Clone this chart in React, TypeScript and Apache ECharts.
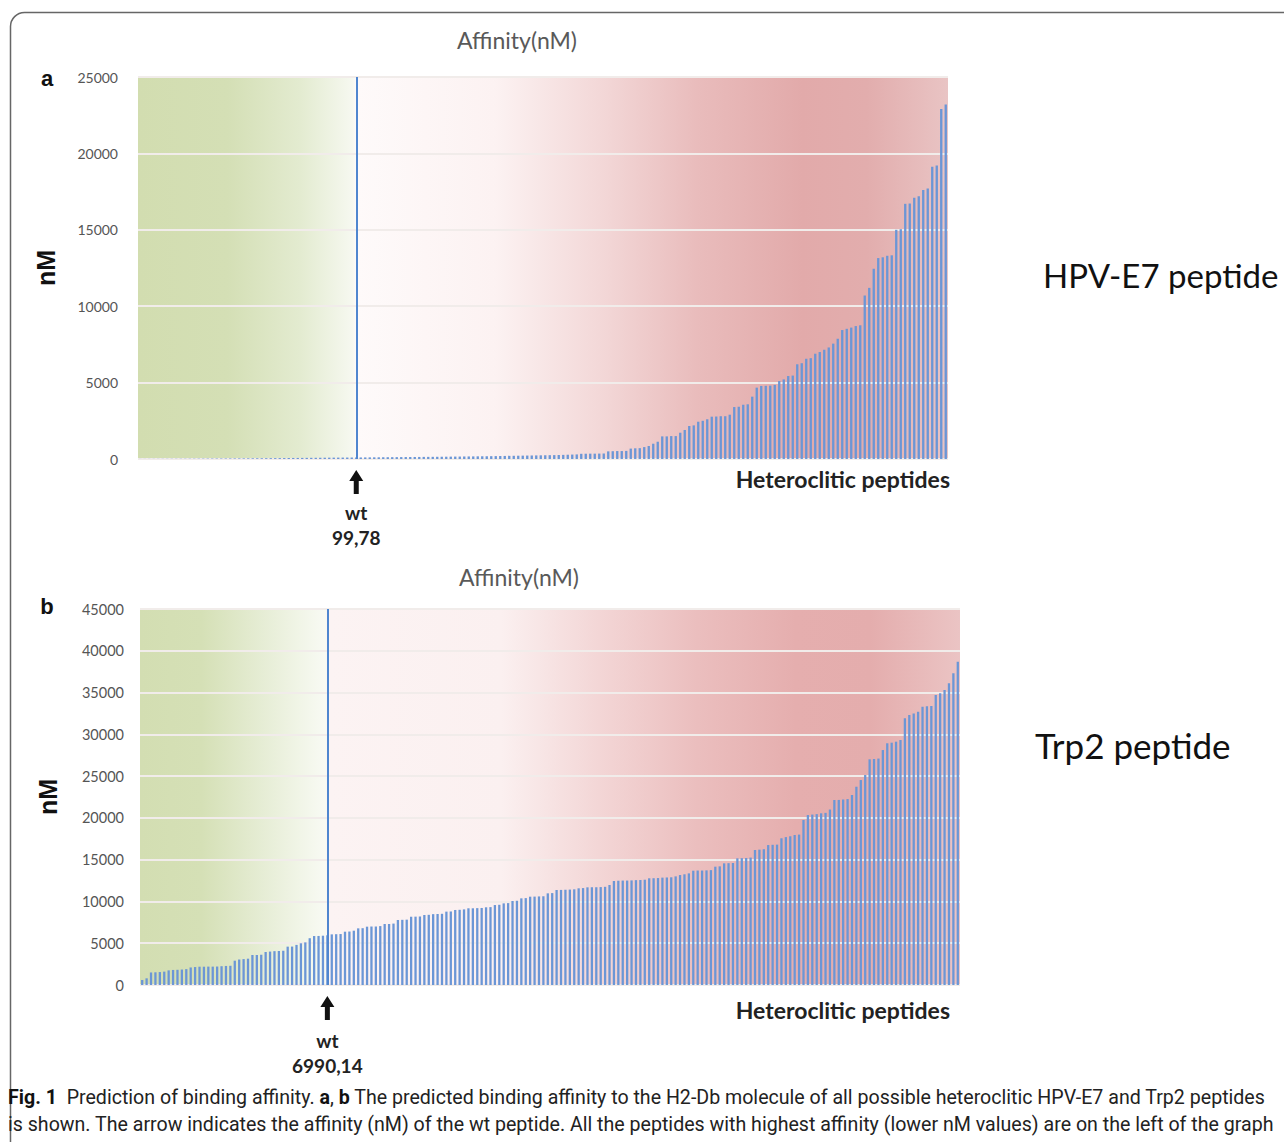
import React, { useEffect, useRef } from "react";
import * as echarts from "echarts";

// ---------- data ----------
const HPV_VALUES = [
  5, 6, 7, 8, 9, 10, 11, 12, 13, 14, 15, 16, 18, 20, 22, 24, 26, 28, 30, 32, 34, 36, 38, 40,
  42, 45, 48, 50, 52, 55, 58, 60, 62, 65, 68, 70, 72, 75, 78, 80, 82, 85, 88, 90, 92, 94, 96, 98,
  99.78,
  102, 105, 108, 110, 112, 115, 118, 120, 122, 125, 128, 130, 133, 135, 138, 140, 142, 145, 148, 150,
  155, 158, 160, 165, 168, 170, 175, 178, 180, 185, 190, 195,
  200, 205, 210, 215, 220, 225, 230, 235, 240, 245, 250, 255, 260, 270, 280, 290, 300,
  340, 345, 350, 350, 355, 360,
  500, 510, 520, 520, 530,
  680, 700, 710,
  780, 850, 1000, 1130,
  1480, 1480, 1500, 1500, 1720, 1900, 2160,
  2200, 2440, 2500, 2600, 2770, 2780, 2800, 2800,
  2900, 3400, 3420, 3550, 3580, 4080, 4670,
  4780, 4790, 4800, 4850, 5100, 5210, 5430, 5460,
  6200, 6270, 6560, 6600, 6890, 7000, 7150, 7300, 7550, 7870,
  8440, 8520, 8600, 8700, 8750, 10700, 11200, 12450,
  13150, 13200, 13300, 13330, 15000, 15040, 16700, 16720,
  17100, 17200, 17600, 17700, 19120, 19200, 22900, 23200,
];

const TRP2_VALUES = [
  600, 800, 1500, 1520, 1550, 1600, 1750, 1800, 1820, 1850, 1900, 2100, 2150, 2190, 2190, 2200,
  2200, 2210, 2250, 2280, 2300, 2910, 3050, 3100, 3150, 3590, 3600, 3620, 3950, 4000, 4050, 4070,
  4100, 4590, 4600, 4800, 4990, 5100, 5600, 5860, 5870, 5900, 5950, 6060, 6080, 6100, 6380, 6400,
  6500, 6780, 6800, 6980, 7000, 7000, 7050, 7300, 7300, 7350, 7780, 7800, 7820, 8170, 8180, 8200,
  8380, 8400, 8480, 8500, 8520, 8780, 8800, 8980, 9000, 9050, 9180, 9180, 9200, 9220, 9300, 9320,
  9570, 9600, 9770, 9800, 10050, 10080, 10370, 10400, 10570, 10580, 10600, 10620, 10970, 11000,
  11370, 11380, 11400, 11420, 11450, 11570, 11600, 11690, 11700, 11700, 11720, 11750, 11970,
  12450, 12480, 12500, 12500, 12520, 12550, 12570, 12600, 12770, 12780, 12800, 12850, 12870,
  12890, 13000, 13160, 13250, 13360, 13680, 13700, 13700, 13720, 13750, 14160, 14200, 14560,
  14580, 14600, 15160, 15180, 15200, 15250, 16160, 16200, 16250, 16750, 16780, 16800, 17560,
  17700, 17800, 17950, 18000, 19750, 20340, 20400, 20450, 20550, 20600, 21000, 22140, 22150,
  22200, 22250, 22740, 23730, 24530, 25130, 27010, 27050, 27100, 28120, 28930, 29000, 29120,
  29320, 31920, 32310, 32500, 32710, 33300, 33350, 33400, 34700, 34910, 35300, 36100, 37300,
  38700,
];

const HPV_WT_INDEX = 48;
const TRP2_WT_INDEX = 42;
const HPV_WT_LABEL = "99,78";
const TRP2_WT_LABEL = "6990,14";
const HPV_Y_MAX = 25000;
const TRP2_Y_MAX = 45000;
const Y_INTERVAL = 5000;
const PANEL_LETTERS = ["a", "b"];
const PANEL_TITLE = "Affinity(nM)";
const PEPTIDE_NAMES = ["HPV-E7 peptide", "Trp2 peptide"];
const X_AXIS_NAME = "Heteroclitic peptides";
const Y_AXIS_NAME = "nM";
const CAPTION_1 =
  "{b|Fig. 1}  Prediction of binding affinity. {b|a}, {b|b} The predicted binding affinity to the H2-Db molecule of all possible heteroclitic HPV-E7 and Trp2 peptides";
const CAPTION_2 =
  "is shown. The arrow indicates the affinity (nM) of the wt peptide. All the peptides with highest affinity (lower nM values) are on the left of the graph";

// ---------- styling ----------
const CHART_FONT = "Lato, 'Open Sans', sans-serif";
const CAPTION_FONT = "Roboto, 'Noto Sans', sans-serif";
const BAR_COLOR = "#6b96d6";
const WT_LINE_COLOR = "#4f86cf";
const ARROW_PATH = "path://M7,0 L14,11 L9.5,11 L9.5,24 L4.5,24 L4.5,11 L0,11 Z";

const gradA = () =>
  new echarts.graphic.LinearGradient(0, 0, 1, 0, [
    { offset: 0, color: "#d2ddb0" },
    { offset: 0.11, color: "#d4dfb5" },
    { offset: 0.2, color: "#e3ebd0" },
    { offset: 0.265, color: "#f6f8f0" },
    { offset: 0.27, color: "#fefafa" },
    { offset: 0.44, color: "#fcf2f2" },
    { offset: 0.57, color: "#f3d8d8" },
    { offset: 0.69, color: "#e9bcbc" },
    { offset: 0.82, color: "#e2aaaa" },
    { offset: 0.9, color: "#e2adad" },
    { offset: 1, color: "#e9c4c4" },
  ]);

const gradB = () =>
  new echarts.graphic.LinearGradient(0, 0, 1, 0, [
    { offset: 0, color: "#d3deb2" },
    { offset: 0.075, color: "#d5e0b6" },
    { offset: 0.15, color: "#e6edd5" },
    { offset: 0.225, color: "#f8faf3" },
    { offset: 0.232, color: "#fcf3f3" },
    { offset: 0.44, color: "#fbf0f0" },
    { offset: 0.56, color: "#f3d6d6" },
    { offset: 0.68, color: "#ebbebe" },
    { offset: 0.8, color: "#e5aeae" },
    { offset: 0.89, color: "#e4adad" },
    { offset: 1, color: "#ebc4c4" },
  ]);

function makeSeries(values: number[], wtIndex: number, wtLabel: string, axisIndex: number, labelGap: number) {
  return {
    type: "bar",
    xAxisIndex: axisIndex,
    yAxisIndex: axisIndex,
    data: values,
    barWidth: "52%",
    itemStyle: { color: BAR_COLOR },
    silent: true,
    markLine: {
      silent: true,
      symbol: "none",
      label: { show: false },
      lineStyle: { color: WT_LINE_COLOR, width: 2, type: "solid" },
      data: [{ xAxis: wtIndex }],
    },
    markPoint: {
      silent: true,
      data: [
        {
          coord: [wtIndex, 0],
          symbol: ARROW_PATH,
          symbolSize: [14, 24],
          symbolOffset: [0, 23],
          itemStyle: { color: "#111" },
          label: {
            show: true,
            position: "bottom",
            distance: labelGap,
            formatter: "wt\n" + wtLabel,
            color: "#222",
            fontFamily: CHART_FONT,
            fontWeight: "bold",
            fontSize: 19,
            lineHeight: 25,
          },
        },
      ],
    },
  };
}

function makeYAxis(max: number, gridIndex: number, margin: number, size: number) {
  return {
    type: "value",
    gridIndex,
    min: 0,
    max,
    interval: Y_INTERVAL,
    name: Y_AXIS_NAME,
    nameLocation: "middle",
    nameRotate: 90,
    nameGap: 80,
    nameTextStyle: { fontFamily: "'Liberation Sans', Arial, sans-serif", fontWeight: "bold", fontSize: 25, color: "#111" },
    axisLine: { show: false },
    axisTick: { show: false },
    axisLabel: {
      color: "#555",
      fontSize: size,
      fontFamily: CHART_FONT,
      margin,
      formatter: (v: number) => String(v),
    },
    splitLine: { show: true, lineStyle: { color: "#f1ecea", width: 2 } },
  };
}

function makeXAxis(n: number, gridIndex: number, padTop: number, padRight: number) {
  return {
    type: "category",
    gridIndex,
    data: Array.from({ length: n }, (_, i) => String(i + 1)),
    name: X_AXIS_NAME,
    nameLocation: "end",
    nameGap: 0,
    nameTextStyle: {
      align: "right",
      verticalAlign: "top",
      padding: [padTop, padRight, 0, 0],
      fontFamily: CHART_FONT,
      fontWeight: "bold",
      fontSize: 23,
      color: "#222",
    },
    axisLine: { show: false },
    axisTick: { show: false },
    axisLabel: { show: false },
    splitLine: { show: false },
  };
}

export default function App() {
  const ref = useRef<HTMLDivElement>(null);

  useEffect(() => {
    if (!ref.current) return;
    const chart = echarts.init(ref.current, undefined, { renderer: "svg" });
    const option = {
      animation: false,
      backgroundColor: "#ffffff",
      grid: [
        { left: 138, top: 77, width: 810, height: 382, show: true, borderWidth: 0, backgroundColor: gradA() },
        { left: 140, top: 609, width: 820, height: 376, show: true, borderWidth: 0, backgroundColor: gradB() },
      ],
      xAxis: [makeXAxis(HPV_VALUES.length, 0, 8, -2), makeXAxis(TRP2_VALUES.length, 1, 13, 10)],
      yAxis: [makeYAxis(HPV_Y_MAX, 0, 20, 14), makeYAxis(TRP2_Y_MAX, 1, 16, 14.5)],
      series: [
        makeSeries(HPV_VALUES, HPV_WT_INDEX, HPV_WT_LABEL, 0, 6),
        makeSeries(TRP2_VALUES, TRP2_WT_INDEX, TRP2_WT_LABEL, 1, 8),
      ],
      graphic: [
        {
          type: "rect",
          silent: true,
          shape: { x: 10.5, y: 12.5, width: 1320, height: 1220, r: 14 },
          style: { fill: "none", stroke: "#666", lineWidth: 1.5 },
        },
        {
          type: "text",
          x: 517,
          y: 40,
          style: { text: PANEL_TITLE, align: "center", verticalAlign: "middle", fill: "#595959", font: "23px " + CHART_FONT },
        },
        {
          type: "text",
          x: 519,
          y: 577,
          style: { text: PANEL_TITLE, align: "center", verticalAlign: "middle", fill: "#595959", font: "23px " + CHART_FONT },
        },
        {
          type: "text",
          x: 47,
          y: 78,
          style: { text: PANEL_LETTERS[0], align: "center", verticalAlign: "middle", fill: "#111", font: "bold 22px 'Liberation Sans', Arial, sans-serif" },
        },
        {
          type: "text",
          x: 47,
          y: 606,
          style: { text: PANEL_LETTERS[1], align: "center", verticalAlign: "middle", fill: "#111", font: "bold 22px 'Liberation Sans', Arial, sans-serif" },
        },
        {
          type: "text",
          x: 1043,
          y: 275,
          style: { text: PEPTIDE_NAMES[0], align: "left", verticalAlign: "middle", fill: "#111", font: "33px " + CHART_FONT },
        },
        {
          type: "text",
          x: 1035,
          y: 745,
          style: { text: PEPTIDE_NAMES[1], align: "left", verticalAlign: "middle", fill: "#111", font: "35px " + CHART_FONT },
        },
        {
          type: "text",
          x: 8,
          y: 1097,
          style: {
            text: CAPTION_1,
            align: "left",
            verticalAlign: "middle",
            fill: "#222",
            font: "19.6px " + CAPTION_FONT,
            rich: {
              b: { fontWeight: "bold", fontSize: 19.6, fontFamily: CAPTION_FONT, fill: "#111" },
            },
          },
        },
        {
          type: "text",
          x: 8,
          y: 1124,
          style: {
            text: CAPTION_2,
            align: "left",
            verticalAlign: "middle",
            fill: "#222",
            font: "19.6px " + CAPTION_FONT,
          },
        },
      ],
    };
    chart.setOption(option as any);
    return () => chart.dispose();
  }, []);

  return (
    <div
      ref={ref}
      style={{ position: "absolute", left: 0, top: 0, width: 1284, height: 1142 }}
    />
  );
}
